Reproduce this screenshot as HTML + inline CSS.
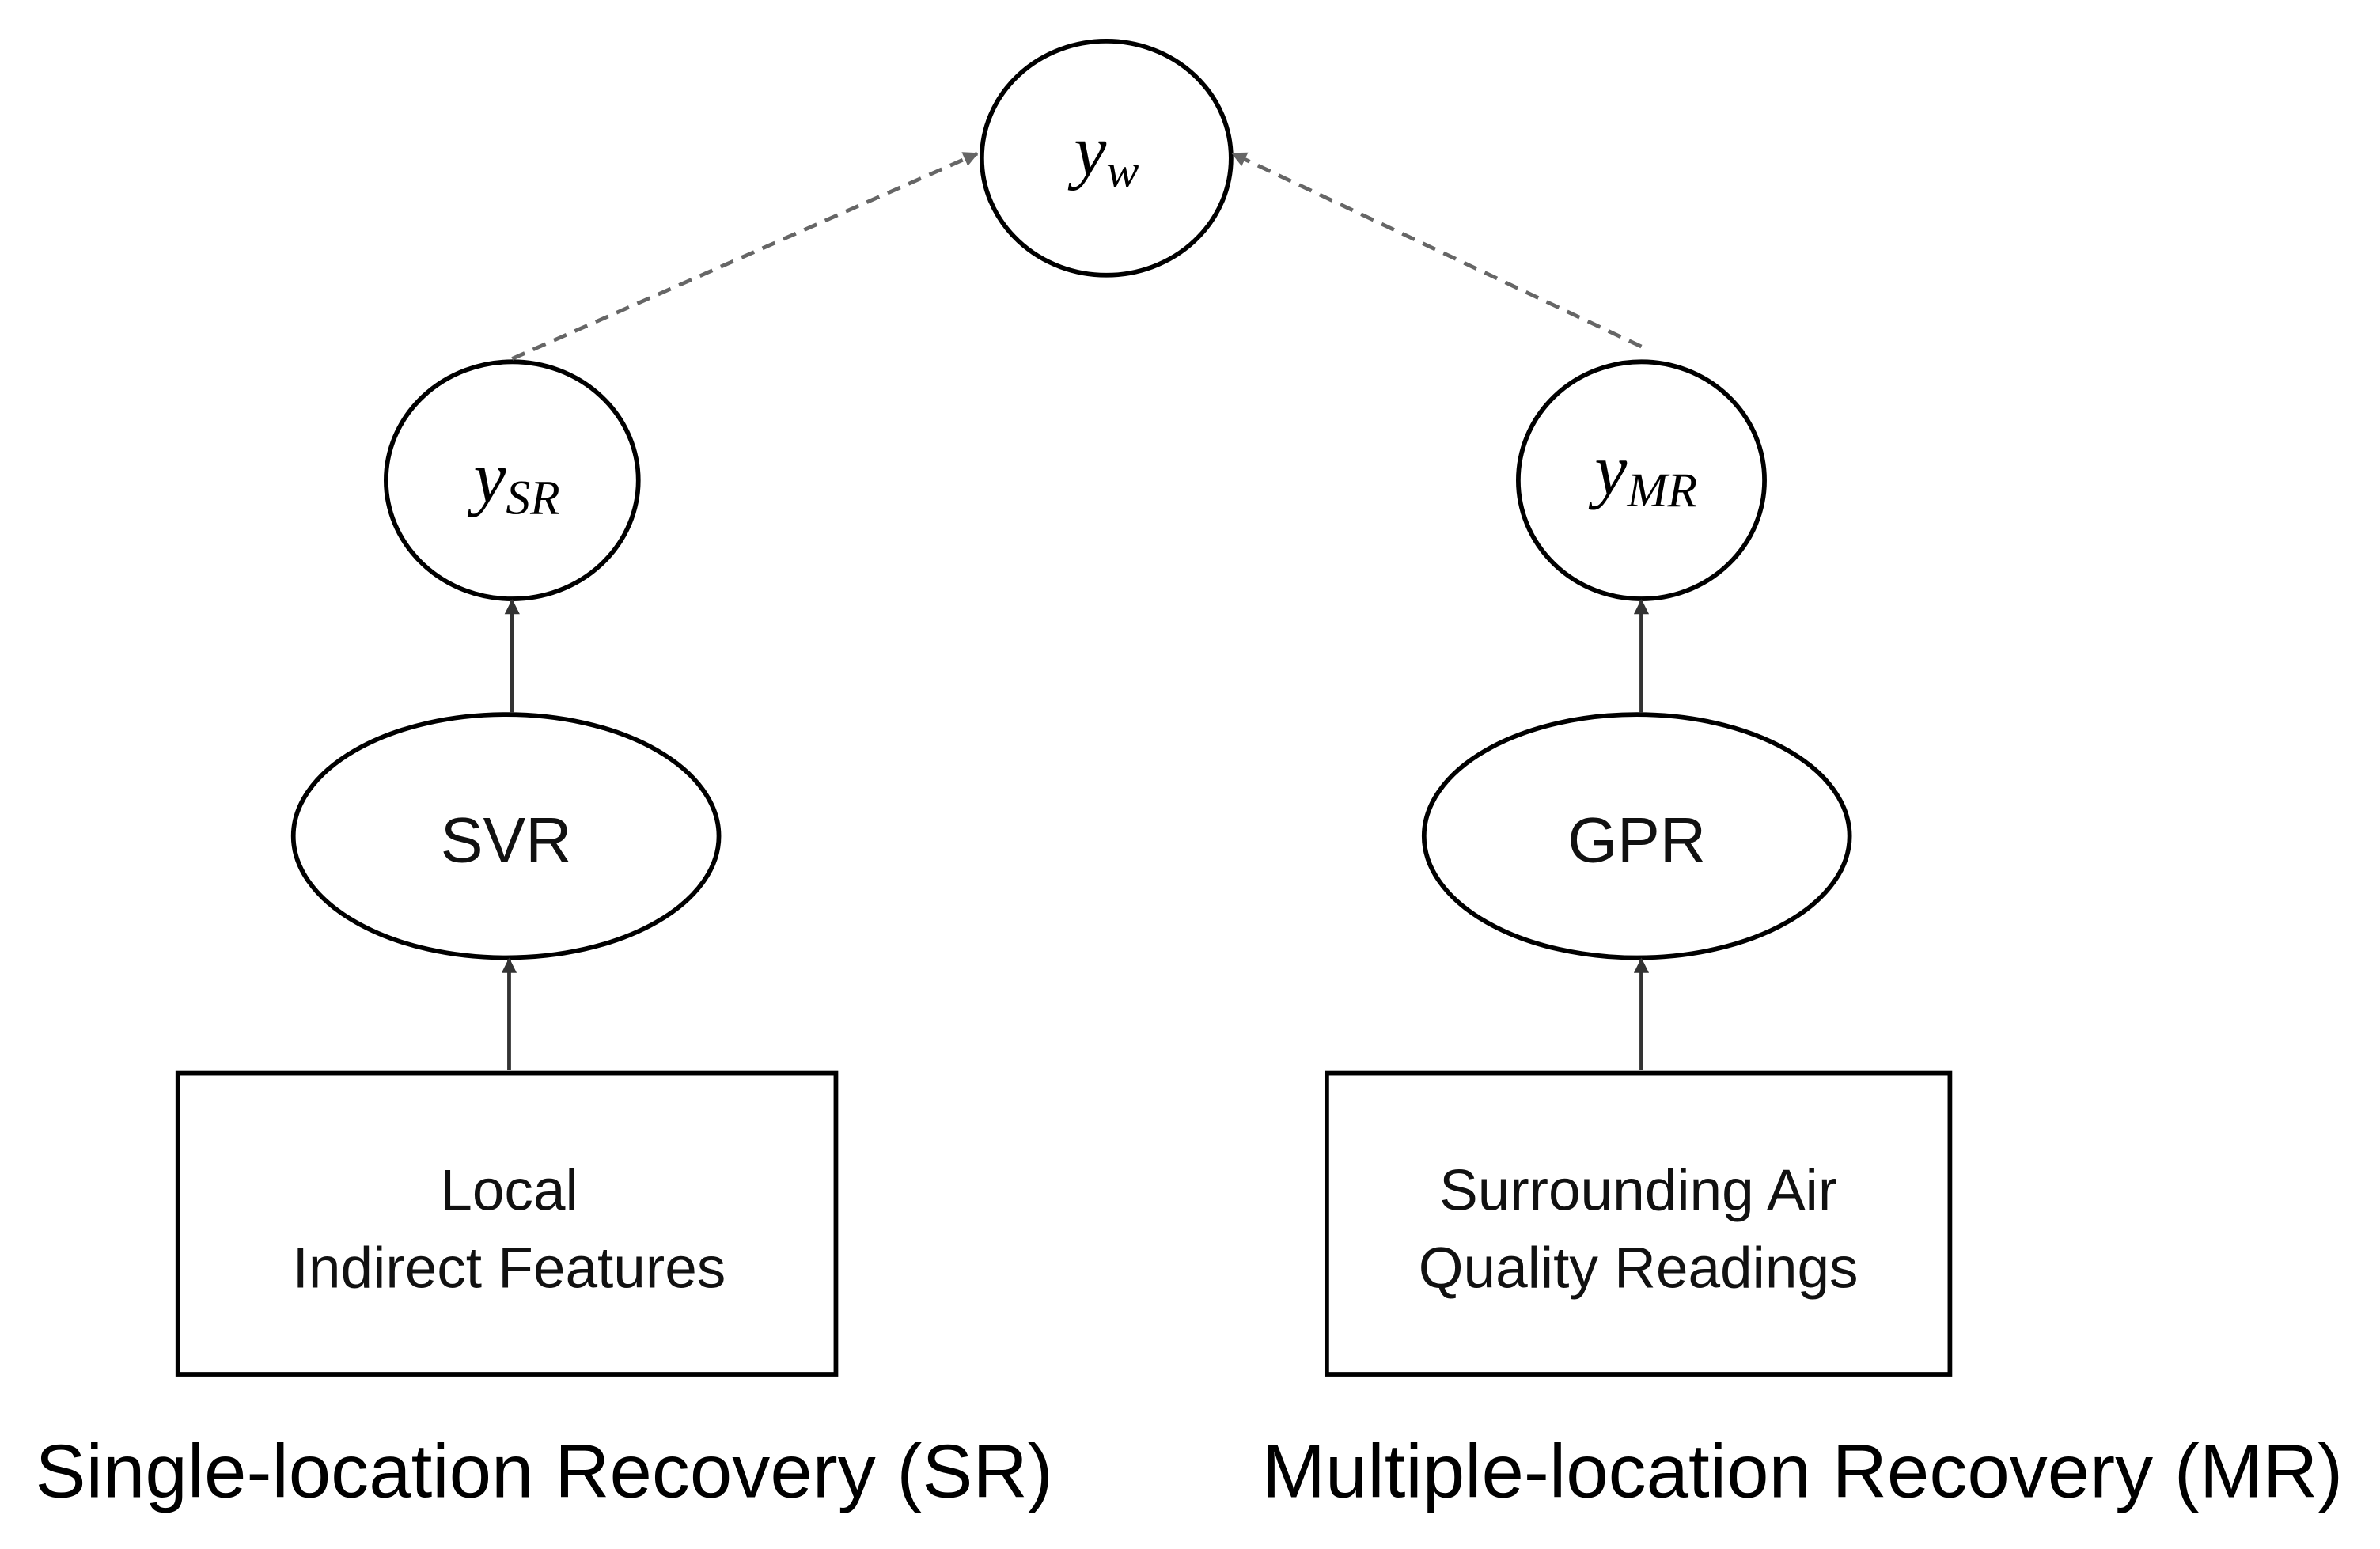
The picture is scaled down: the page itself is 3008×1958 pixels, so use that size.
<!DOCTYPE html>
<html><head><meta charset="utf-8"><style>html,body{margin:0;padding:0;background:#fff}svg{display:block}</style></head>
<body>
<svg width="3008" height="1958" viewBox="0 0 1566 1019" preserveAspectRatio="none" xmlns="http://www.w3.org/2000/svg">
<defs>
<marker id="a" viewBox="0 0 10 10" refX="9" refY="5" markerWidth="4" markerHeight="4" orient="auto"><path d="M0,0 L10,5 L0,10 z" fill="#333"/></marker>
<marker id="g" viewBox="0 0 10 10" refX="9" refY="5" markerWidth="4" markerHeight="4" orient="auto"><path d="M0,0 L10,5 L0,10 z" fill="#666"/></marker>
</defs>
<g fill="none" stroke="#000" stroke-width="3">
<ellipse cx="728" cy="104" rx="82" ry="77"/>
<ellipse cx="337" cy="316" rx="83" ry="78"/>
<ellipse cx="1080" cy="316" rx="81" ry="78"/>
<ellipse cx="333" cy="550" rx="140" ry="80"/>
<ellipse cx="1077" cy="550" rx="140" ry="80"/>
<rect x="117" y="706" width="433" height="198"/>
<rect x="873" y="706" width="410" height="198"/>
</g>
<g stroke="#333" stroke-width="2.5" marker-end="url(#a)">
<line x1="335" y1="704" x2="335" y2="631"/>
<line x1="337" y1="469" x2="337" y2="395"/>
<line x1="1080" y1="704" x2="1080" y2="631"/>
<line x1="1080" y1="469" x2="1080" y2="395"/>
</g>
<g stroke="#666" stroke-width="2.5" stroke-dasharray="9,6" marker-end="url(#g)">
<line x1="337" y1="236" x2="643" y2="101"/>
<line x1="1080" y1="228" x2="811" y2="101"/>
</g>
<g font-family="Liberation Serif, serif" font-style="italic" text-anchor="middle" fill="#000">
<text x="728" y="115" font-size="48">y<tspan font-size="32" dy="8">w</tspan></text>
<text x="340" y="330" font-size="48">y<tspan font-size="32" dy="8">SR</tspan></text>
<text x="1083" y="325" font-size="48">y<tspan font-size="32" dy="8">MR</tspan></text>
</g>
<g font-family="Liberation Sans, sans-serif" text-anchor="middle" fill="#111">
<text x="333" y="567" font-size="42">SVR</text>
<text x="1077" y="567" font-size="42">GPR</text>
<text x="335" y="796" font-size="38">Local</text>
<text x="335" y="847" font-size="38">Indirect Features</text>
<text x="1078" y="796" font-size="38">Surrounding Air</text>
<text x="1078" y="847" font-size="38">Quality Readings</text>
<text x="358" y="985" font-size="50" fill="#000">Single-location Recovery (SR)</text>
<text x="1186" y="985" font-size="50" fill="#000">Multiple-location Recovery (MR)</text>
</g>
</svg>
</body></html>
